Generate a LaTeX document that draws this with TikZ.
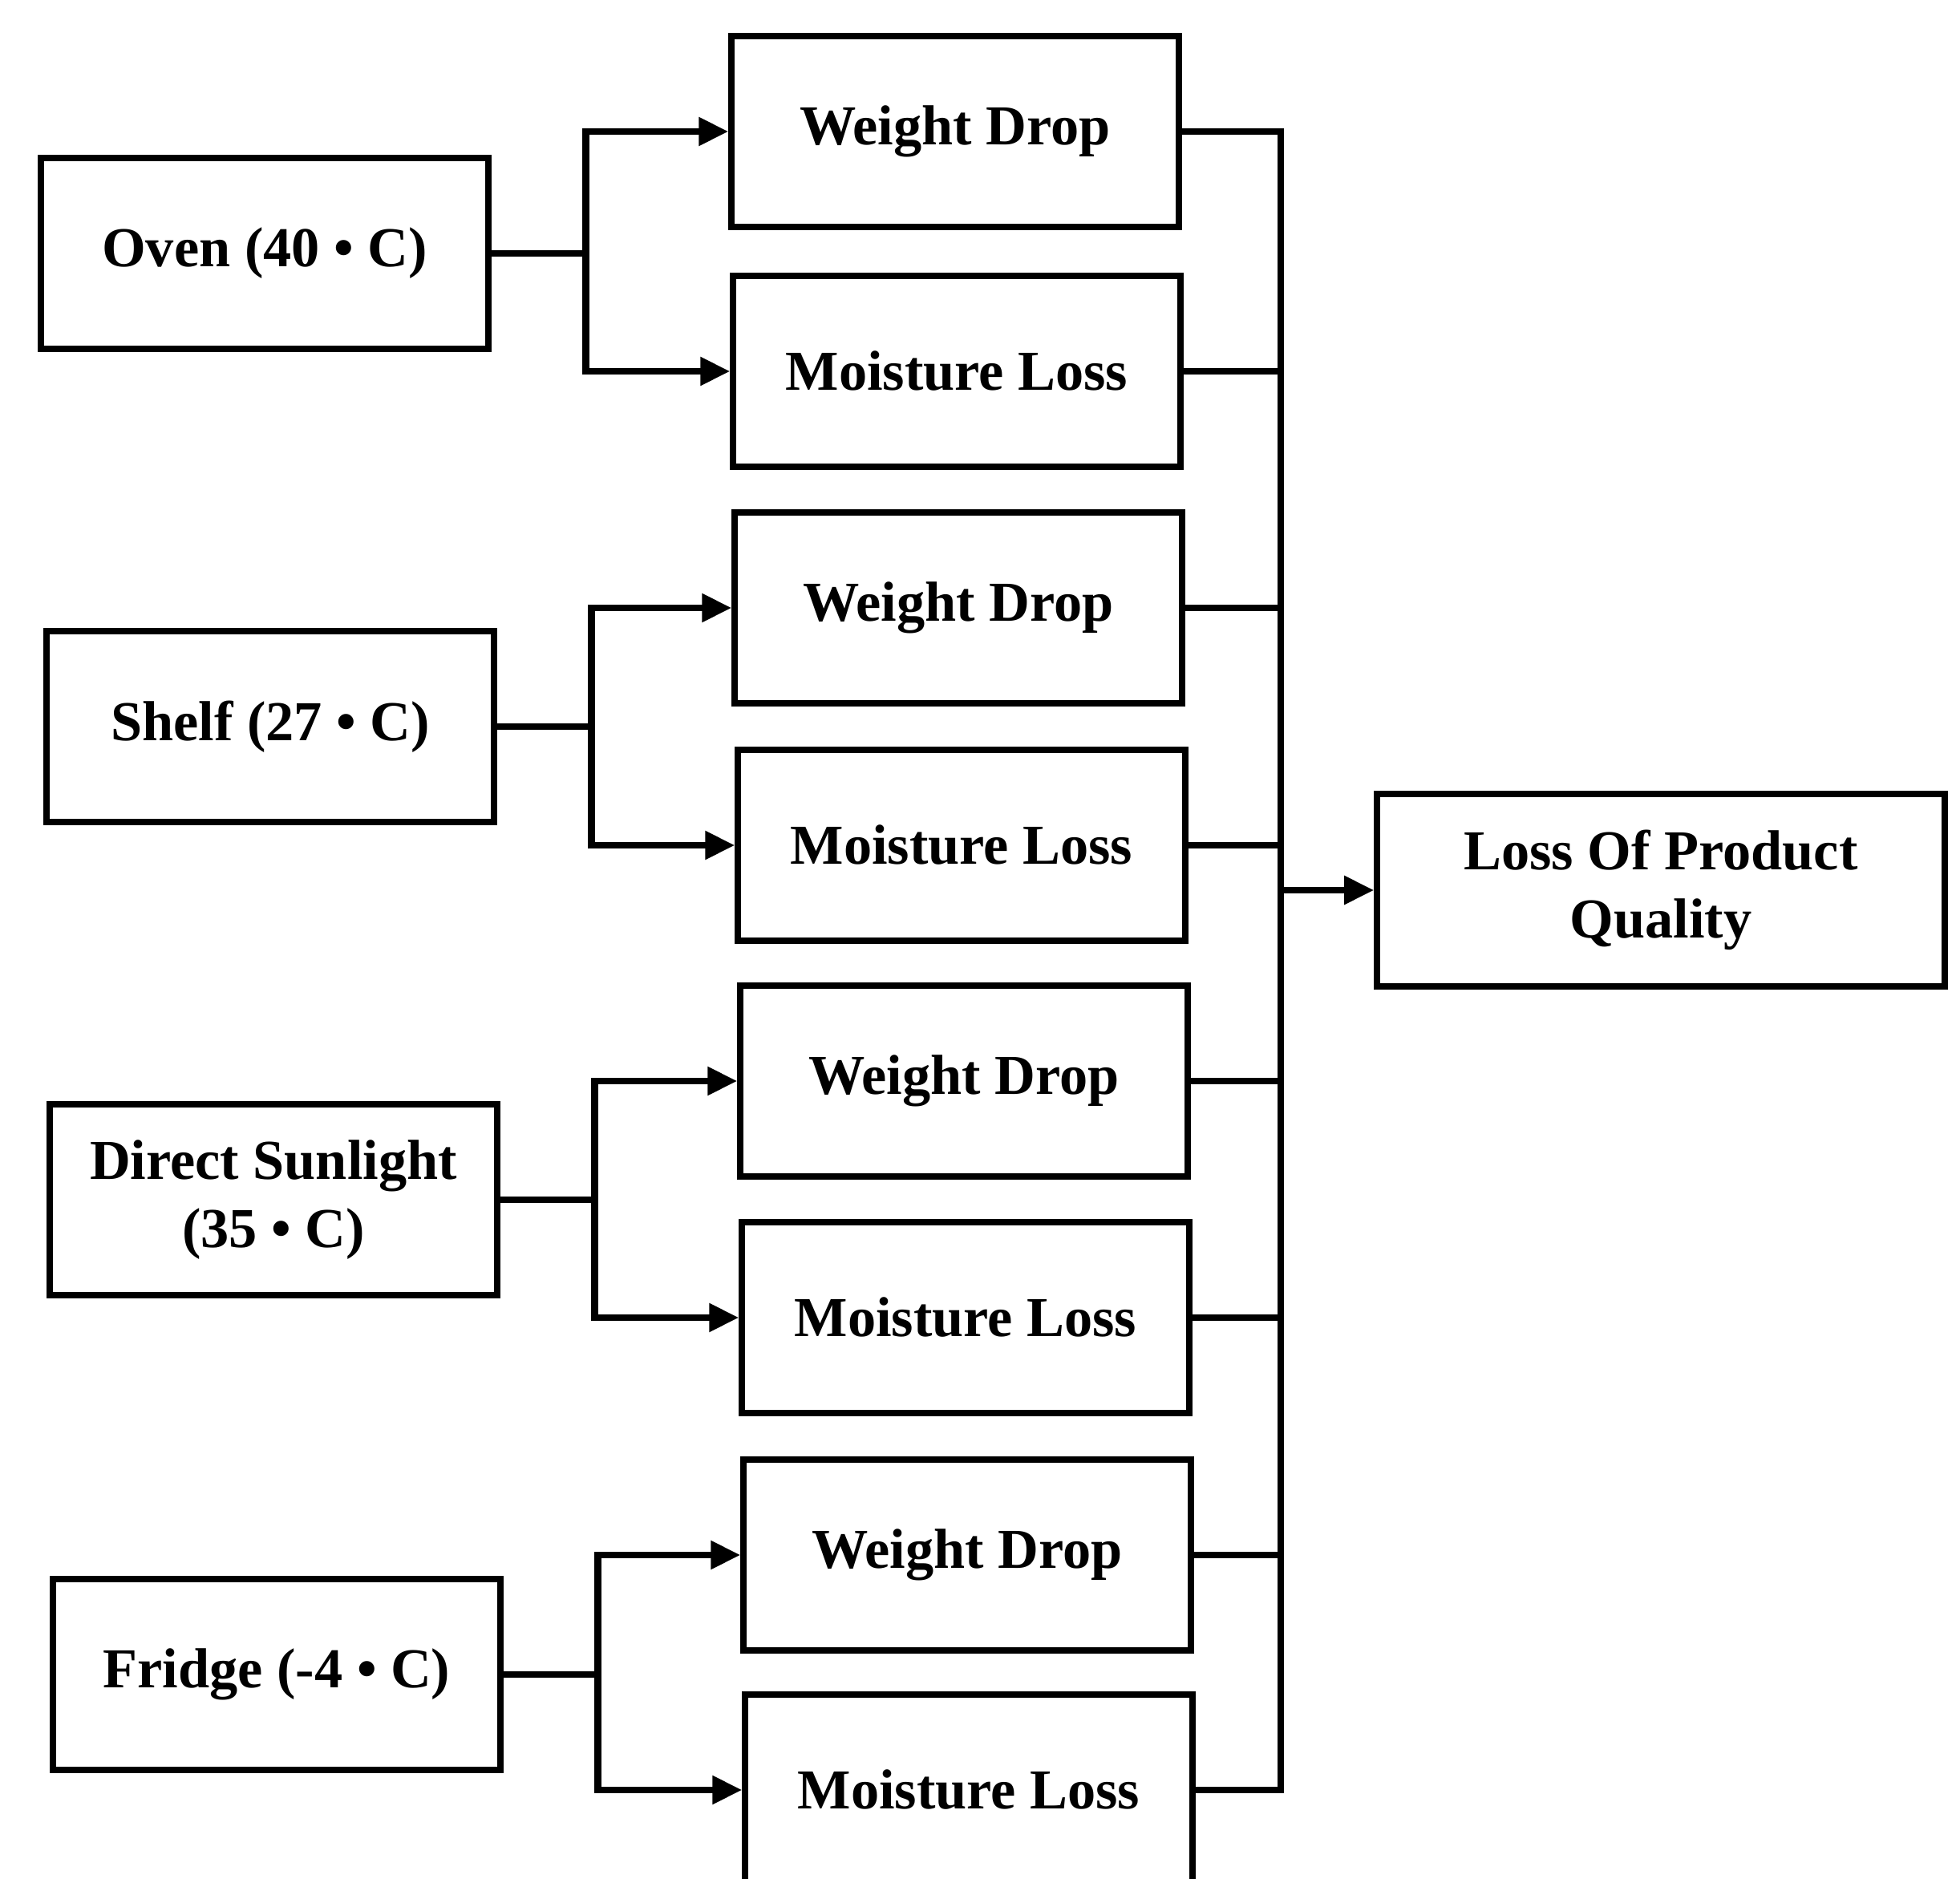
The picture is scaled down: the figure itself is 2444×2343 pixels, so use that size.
\documentclass[tikz,border=0pt]{standalone}
\usepackage{fontspec}
\setmainfont{Liberation Serif}
\usetikzlibrary{arrows.meta}

\begin{document}
\begin{tikzpicture} [
            x=0.01cm, y=-0.01cm,
            box/.style = {draw, rectangle, line width=2.3pt, inner sep=0pt,
                          minimum width=5.57cm, minimum height=2.38cm,
                          align=center, font=\bfseries\fontsize{20}{24}\selectfont},
            result box/.style = {box, minimum width=7.07cm, minimum height=2.4cm},
            link/.style = {draw, line width=2.4pt, line join=miter},
            arrow link/.style = {link, -{Triangle[length=0.37cm,width=0.34cm]}},
        ]
        \useasboundingbox (0,0) rectangle (2444,2343);
        % conditions on the left
        \foreach \pos/\name/\label in {
                {(330,316)/oven/Oven (40 • C)},
                {(337,906)/shelf/Shelf (27 • C)},
                {(341,1496)/sun/Direct Sunlight\\(35 • C)},
                {(345,2088)/fridge/Fridge (-4 • C)}}
            \node[box] (\name) at \pos {\label};
        % effects in the middle
        \foreach \pos/\name/\label in {
                {(1191,164)/wd1/Weight Drop},
                {(1193,463)/ml1/Moisture Loss},
                {(1195,758)/wd2/Weight Drop},
                {(1199,1054)/ml2/Moisture Loss},
                {(1202,1348)/wd3/Weight Drop},
                {(1204,1643)/ml3/Moisture Loss},
                {(1206,1939)/wd4/Weight Drop},
                {(1208,2232)/ml4/Moisture Loss}}
            \node[box] (\name) at \pos {\label};
        % outcome
        \node[result box] (loss) at (2071,1110) {Loss Of Product\\Quality};
        \coordinate (bus) at (1597,0);
        % split every condition into its two effects
        \foreach \source/\first/\second in {
                oven/wd1/ml1,
                shelf/wd2/ml2,
                sun/wd3/ml3,
                fridge/wd4/ml4} {
            \draw[arrow link] (\source.east) -- ++(118,0) coordinate (\source-split) |- (\first.west);
            \draw[arrow link] (\source-split) |- (\second.west);
        }
        % collect the effects on the bus
        \foreach \effect in {wd1,ml1,wd2,ml2,wd3,ml3,wd4,ml4}
            \path[link] (\effect.east) -- (\effect.east -| bus);
        \path[link, line cap=rect] (wd1.east -| bus) -- (ml4.east -| bus);
        \draw[arrow link] (loss.west -| bus) -- (loss.west);
    \end{tikzpicture}
\end{document}
